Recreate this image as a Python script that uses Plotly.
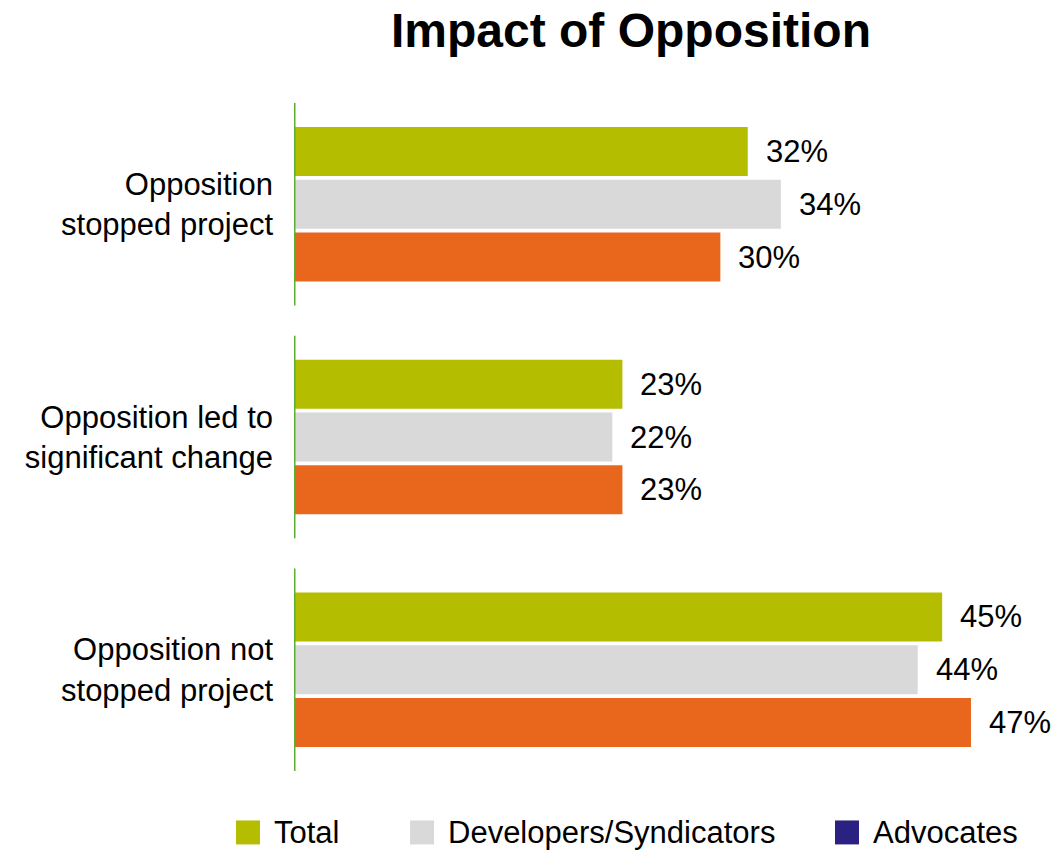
import plotly.graph_objects as go

categories = ["Opposition<br>stopped project", "Opposition led to<br>significant change", "Opposition not<br>stopped project"]
series_names = ["Total", "Developers/Syndicators", "Advocates"]
total_vals = [31.5, 22.8, 45.0]
dev_vals = [33.8, 22.1, 43.3]
adv_vals = [29.6, 22.8, 47.0]
total_labels = ["32%", "23%", "45%"]
dev_labels = ["34%", "22%", "44%"]
adv_labels = ["30%", "23%", "47%"]
bar_colors = ["#b5bd00", "#d9d9d9", "#e8671c"]
legend_colors = ["#b5bd00", "#d9d9d9", "#2a2183"]

FONT = "Liberation Sans, Arial, sans-serif"
FS = 31
values = [total_vals, dev_vals, adv_vals]
labels = [total_labels, dev_labels, adv_labels]

fig = go.Figure()
for name, vals, col in zip(series_names, values, bar_colors):
    fig.add_trace(go.Bar(y=categories, x=vals, name=name, orientation="h",
                         marker=dict(color=col, line=dict(width=0)), showlegend=False))

bargap = 0.32
bargroupgap = 0.07
slot = (1 - bargap) / 3
annotations = []
for k, (vals, labs) in enumerate(zip(values, labels)):
    for i, (v, t) in enumerate(zip(vals, labs)):
        annotations.append(dict(x=v, y=i + (k - 1) * slot, xref="x", yref="y", text=t,
                                showarrow=False, xanchor="left", yanchor="middle",
                                xshift=16, font=dict(size=FS, color="#000", family=FONT)))

shapes = []
for i in range(len(categories)):
    shapes.append(dict(type="line", xref="x", yref="y", x0=0, x1=0, y0=i - 0.435, y1=i + 0.435,
                       line=dict(color="#5cae34", width=3)))

# manual legend
leg_x = [236, 410, 835]
for name, col, lx in zip(series_names, legend_colors, leg_x):
    shapes.append(dict(type="rect", xref="paper", yref="paper",
                       x0=(lx - 294) / 749, x1=(lx + 24 - 294) / 749,
                       y0=(786.5 - 845) / 699, y1=(786.5 - 821) / 699,
                       fillcolor=col, line=dict(width=0)))
    annotations.append(dict(x=(lx + 36 - 294) / 749, y=(786.5 - 833) / 699, xref="paper", yref="paper",
                            text=name, showarrow=False, xanchor="left", yanchor="middle",
                            font=dict(size=FS, color="#000", family=FONT)))

fig.update_layout(
    width=1056, height=856,
    margin=dict(l=294, r=13, t=87.5, b=69.5),
    paper_bgcolor="white", plot_bgcolor="white",
    barmode="group", bargap=bargap, bargroupgap=bargroupgap,
    title=dict(text="<b>Impact of Opposition</b>", x=631 / 1056, xref="container", xanchor="center",
               y=1 - 30 / 856, yanchor="middle", yref="container",
               font=dict(size=48, color="#000", family=FONT)),
    xaxis=dict(range=[0, 52], visible=False, showgrid=False, zeroline=False),
    yaxis=dict(autorange="reversed", showgrid=False, showline=False, zeroline=False,
               ticks="", ticklabelstandoff=20,
               tickfont=dict(size=FS, color="#000", family=FONT)),
    shapes=shapes, annotations=annotations, showlegend=False,
)

fig.write_html("out.html")
